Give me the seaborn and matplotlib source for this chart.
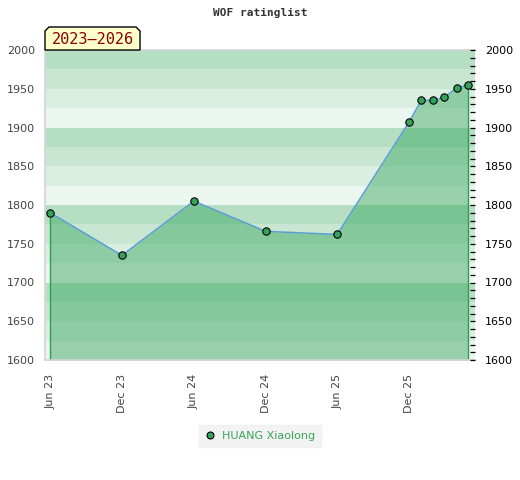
import matplotlib
matplotlib.use("Agg")
import matplotlib.pyplot as plt
import matplotlib.dates as mdates
from matplotlib.patches import Polygon
from matplotlib.lines import Line2D
import seaborn as sns
import pandas as pd
import numpy as np

# ---- data ----
dates = ["2023-06-01", "2023-12-01", "2024-06-01", "2024-12-01", "2025-06-01",
         "2025-12-01", "2026-01-01", "2026-02-01", "2026-03-01", "2026-04-01",
         "2026-05-01"]
ratings = [1790, 1735, 1805, 1766, 1762, 1907, 1935, 1935, 1939, 1951, 1955]
player = "HUANG Xiaolong"
tick_dates = ["2023-06-01", "2023-12-01", "2024-06-01", "2024-12-01",
              "2025-06-01", "2025-12-01"]
tick_labels = ["Jun 23", "Dec 23", "Jun 24", "Dec 24", "Jun 25", "Dec 25"]
y_ticks = [1600, 1650, 1700, 1750, 1800, 1850, 1900, 1950, 2000]
title = "WOF ratinglist"
period = "2023\u20132026"

df = pd.DataFrame({"date": pd.to_datetime(dates), "rating": ratings})

sns.set_style("white")
plt.rcParams["font.family"] = ["DejaVu Sans"]

GREEN = "#35a55b"
W, H = 520, 480
fig = plt.figure(figsize=(W / 100, H / 100), dpi=100)
ax = fig.add_axes([45 / W, 1 - 360 / H, 430 / W, 310 / H])

ymin, ymax = 1600, 2000
ax.set_ylim(ymin, ymax)
ax.set_xlim(pd.Timestamp("2023-05-19"), pd.Timestamp("2026-05-18"))

# background bands
for y0 in range(ymin, ymax, 25):
    a = 0.09 * ((y0 % 100) // 25 + 1)
    ax.axhspan(y0, y0 + 25, color=GREEN, alpha=a, lw=0, zorder=0)

# area fill
ax.fill_between(df["date"], df["rating"], ymin, color=GREEN, alpha=0.46,
                lw=0, zorder=1)
ax.vlines([df["date"].iloc[0], df["date"].iloc[-1]], ymin,
          [df["rating"].iloc[0], df["rating"].iloc[-1]], color="#2aa04f",
          lw=1.0, zorder=2)

sns.lineplot(data=df, x="date", y="rating", ax=ax, color="#5a9fd4", lw=1.1,
             zorder=3, legend=False)
sns.scatterplot(data=df, x="date", y="rating", ax=ax, color="#33a35a",
                edgecolor="black", linewidth=0.8, s=28, zorder=4, legend=False)

ax.set_xlabel("")
ax.set_ylabel("")
ax.set_xticks(pd.to_datetime(tick_dates))
ax.set_xticklabels(tick_labels, rotation=90, fontsize=8, color="#444444")
ax.set_yticks(y_ticks)
ax.set_yticklabels([str(v) for v in y_ticks], fontsize=8, color="#444444")
ax.tick_params(axis="y", length=0, pad=7)
ax.tick_params(axis="x", length=0, pad=10)
for s in ["left", "bottom", "top"]:
    ax.spines[s].set_color("#d4d4d4")
    ax.spines[s].set_linewidth(1.2)
ax.spines["right"].set_visible(False)

# right axis
ax2 = ax.twinx()
ax2.set_ylim(ymin, ymax)
ax2.set_yticks(y_ticks)
ax2.set_yticklabels([str(v) for v in y_ticks], fontsize=8, color="black")
ax2.set_yticks(np.arange(ymin, ymax + 1, 10), minor=True)
ax2.tick_params(axis="y", which="both", direction="in", length=3.5,
                width=0.9, color="black", pad=7)
for s in ax2.spines.values():
    s.set_visible(False)

# title
fig.text(0.5, 1 - 13 / H, title, ha="center", va="center",
         family="DejaVu Sans Mono", weight="bold", fontsize=8, color="#333333")

# period label box with chamfered top corners
x0, x1, yb, yt, c = 45, 140, 50, 27, 4
pts = [(x0, yb), (x0, yt + c), (x0 + c, yt), (x1 - c, yt), (x1, yt + c), (x1, yb)]
pts = [(px / W, 1 - py / H) for px, py in pts]
fig.patches.append(Polygon(pts, closed=True, transform=fig.transFigure,
                           facecolor="#ffffcc", edgecolor="black", lw=1,
                           zorder=5))
fig.text((x0 + x1) / 2 / W, 1 - 39.5 / H, period, ha="center", va="center",
         family="DejaVu Sans Mono", fontsize=11, color="#8b0000", zorder=6)

# legend
handle = Line2D([], [], ls="none", marker="o", markersize=5,
                markerfacecolor="#33a35a", markeredgecolor="black",
                markeredgewidth=0.8)
leg = fig.legend([handle], [player], loc="center",
                 bbox_to_anchor=(260 / W, 1 - 436 / H), frameon=True,
                 fontsize=8, handlelength=1.0, handletextpad=0.6,
                 borderpad=0.5, fancybox=False)
leg.get_frame().set_facecolor("#f0f0f0")
leg.get_frame().set_edgecolor("#f0f0f0")
for t in leg.get_texts():
    t.set_color("#3aa35c")

fig.savefig("out.png", dpi=100)
